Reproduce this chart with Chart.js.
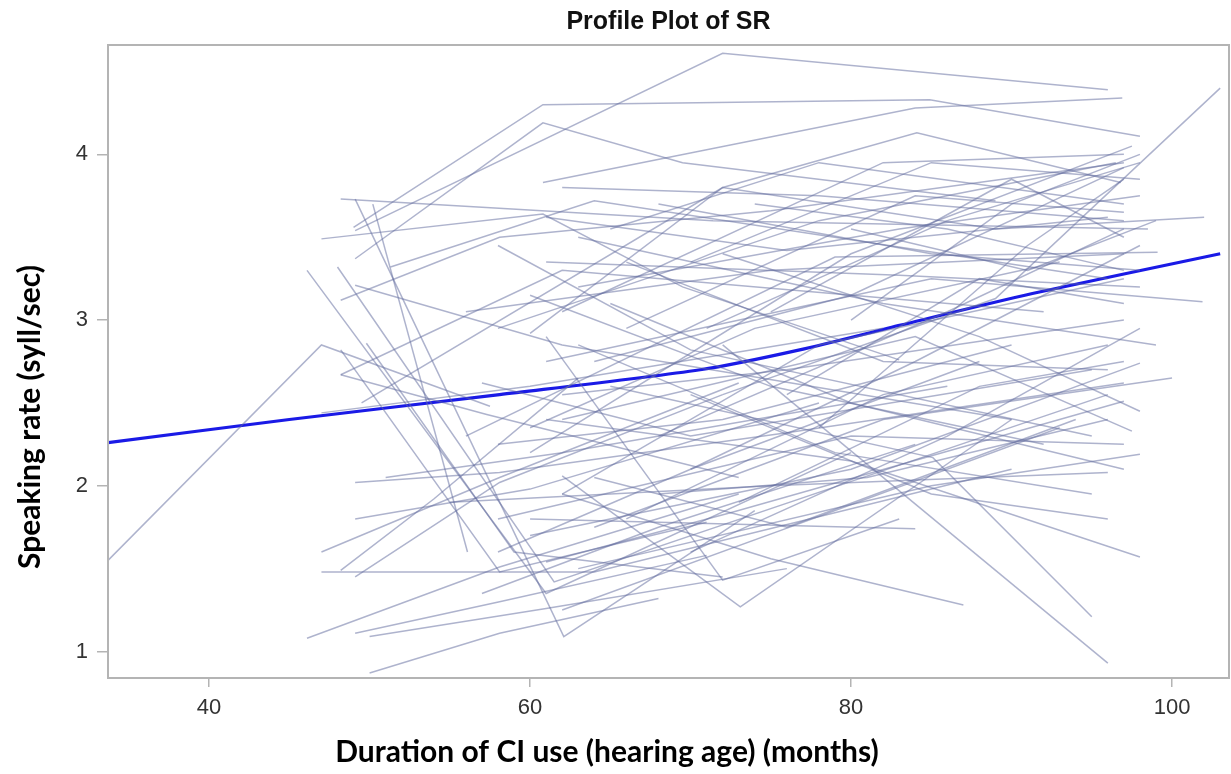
<!DOCTYPE html>
<html>
<head>
<meta charset="utf-8">
<script src="https://cdn.jsdelivr.net/npm/chart.js@4.4.0/dist/chart.umd.min.js"></script>
<style>
  html, body { margin: 0; padding: 0; background: #fff; }
  #wrap { width: 1231px; height: 774px; }
</style>
</head>
<body>
<div id="wrap"><canvas id="profileChart" width="1231" height="774"></canvas></div>
<script>
// axis ticks
const xTicks = [40, 60, 80, 100];
const yTicks = [1, 2, 3, 4];

// average profile (months, syll/sec)
const meanMonths = [33.7, 45.0, 58.1, 70.6, 76.8, 83.1, 91.3, 103.0];
const meanRate = [2.26, 2.40, 2.55, 2.70, 2.82, 2.97, 3.16, 3.40];

// one entry per child: [months, syll/sec] at each visit
const profiles = [
  [[33.7, 1.55], [47.0, 2.85], [57.5, 2.48]],
  [[49.1, 3.54], [72.0, 4.61], [96.0, 4.39]],
  [[49.0, 3.56], [60.8, 4.30], [84.9, 4.33], [98.0, 4.11]],
  [[49.1, 3.37], [60.8, 4.19], [69.5, 3.95], [89.0, 3.72]],
  [[48.2, 3.73], [71.4, 3.60], [98.5, 3.55]],
  [[49.1, 3.73], [62.1, 1.09], [74.0, 1.85]],
  [[46.1, 3.30], [61.0, 1.35], [80.0, 2.20]],
  [[48.0, 3.32], [61.5, 1.42], [96.0, 2.55]],
  [[47.0, 3.49], [60.8, 3.64], [69.5, 3.20], [83.0, 2.76]],
  [[51.3, 3.32], [64.0, 3.72], [96.0, 3.25]],
  [[49.1, 3.21], [62.0, 2.85], [90.0, 2.40]],
  [[48.2, 3.12], [58.1, 3.50], [75.0, 3.66], [97.0, 3.95]],
  [[49.5, 2.50], [72.0, 3.80], [84.1, 4.13], [96.8, 3.83]],
  [[48.2, 2.67], [57.3, 2.43], [73.0, 2.05]],
  [[48.2, 2.67], [62.0, 3.30], [92.0, 3.05]],
  [[47.0, 2.44], [60.0, 2.60], [82.0, 2.95]],
  [[49.1, 2.02], [58.1, 2.08], [76.0, 2.32], [97.0, 2.62]],
  [[51.0, 2.05], [62.0, 2.20], [86.0, 2.60]],
  [[49.1, 1.80], [60.0, 1.98], [78.0, 2.50]],
  [[47.0, 1.60], [58.1, 2.05], [73.0, 2.62]],
  [[48.2, 1.49], [54.0, 1.92], [63.0, 2.65]],
  [[47.0, 1.48], [64.0, 1.48], [90.0, 2.10]],
  [[49.1, 1.45], [58.1, 2.02], [72.0, 2.55]],
  [[46.1, 1.08], [58.1, 1.51], [73.0, 1.95]],
  [[49.1, 1.11], [58.1, 1.30], [71.0, 1.58]],
  [[50.0, 1.09], [61.0, 1.26], [76.0, 1.50]],
  [[50.0, 0.87], [58.1, 1.11], [68.0, 1.32]],
  [[48.2, 2.82], [58.1, 1.48], [71.0, 1.78]],
  [[49.8, 2.86], [59.0, 1.60], [72.0, 1.45]],
  [[50.2, 3.70], [56.1, 1.60]],
  [[60.8, 3.83], [84.0, 4.28], [96.9, 4.34]],
  [[58.0, 3.45], [70.0, 2.82], [95.0, 2.30]],
  [[61.0, 3.35], [83.0, 3.27], [98.0, 3.20]],
  [[60.0, 2.92], [72.0, 3.80], [89.0, 3.55], [102.0, 3.62]],
  [[72.0, 2.55], [89.0, 3.13], [103.0, 4.40]],
  [[60.0, 2.20], [80.0, 3.40], [97.5, 4.05]],
  [[62.0, 3.05], [82.0, 3.95], [97.0, 4.00]],
  [[65.0, 3.55], [78.0, 3.95], [97.0, 3.70]],
  [[56.0, 2.30], [79.0, 3.38], [99.1, 3.41]],
  [[61.0, 2.75], [85.0, 3.25], [101.9, 3.11]],
  [[64.0, 1.75], [82.0, 2.40], [100.0, 2.65]],
  [[60.0, 1.70], [80.0, 2.10], [98.0, 2.74]],
  [[72.0, 2.85], [96.0, 0.93]],
  [[65.0, 2.60], [85.1, 2.17], [95.0, 1.21]],
  [[61.0, 2.40], [80.0, 2.15], [98.0, 1.57]],
  [[61.0, 1.54], [72.6, 1.84], [97.0, 2.51]],
  [[61.0, 2.90], [72.0, 1.43], [83.0, 1.80]],
  [[62.0, 2.06], [73.1, 1.27], [90.0, 2.40]],
  [[62.0, 1.95], [75.0, 1.56], [87.0, 1.28]],
  [[60.0, 1.80], [84.0, 1.74]],
  [[55.0, 1.90], [75.0, 2.00], [96.0, 2.08]],
  [[58.0, 1.80], [80.0, 2.30], [97.0, 2.25]],
  [[63.0, 1.50], [85.0, 2.00], [98.0, 2.19]],
  [[62.0, 2.40], [84.0, 2.90], [97.5, 2.33]],
  [[56.0, 3.05], [75.0, 3.30], [97.0, 3.40]],
  [[63.0, 3.20], [83.0, 3.55], [98.0, 3.75]],
  [[58.0, 2.95], [78.0, 3.60], [96.5, 3.95]],
  [[66.0, 2.95], [84.0, 3.75], [97.0, 3.65]],
  [[70.0, 3.35], [85.0, 3.95], [98.0, 3.85]],
  [[62.0, 2.55], [76.0, 2.70], [97.0, 3.00]],
  [[60.0, 2.35], [74.0, 2.95], [93.0, 3.35]],
  [[68.0, 2.30], [86.0, 3.05], [97.0, 3.55]],
  [[62.0, 1.95], [78.0, 2.85], [97.0, 3.25]],
  [[57.0, 2.62], [70.0, 2.30], [95.0, 2.70]],
  [[66.0, 1.80], [82.0, 2.55], [96.0, 2.85]],
  [[70.0, 1.60], [86.0, 2.30], [98.0, 2.95]],
  [[65.0, 3.10], [80.0, 2.50], [97.0, 2.10]],
  [[60.0, 3.15], [75.0, 2.60], [92.0, 2.25]],
  [[72.0, 3.40], [88.0, 2.90], [98.0, 2.45]],
  [[63.0, 3.50], [82.0, 3.10], [99.0, 2.85]],
  [[75.0, 3.05], [90.0, 3.85], [97.0, 3.50]],
  [[68.0, 3.70], [85.0, 3.40], [98.0, 3.30]],
  [[78.0, 2.35], [91.0, 3.45], [97.0, 3.85]],
  [[70.0, 2.55], [85.0, 1.95], [96.0, 1.80]],
  [[64.0, 2.05], [76.0, 1.75], [94.0, 2.40]],
  [[62.0, 1.25], [79.0, 1.85], [93.0, 2.35]],
  [[57.0, 1.35], [68.0, 1.75], [84.0, 2.25]],
  [[73.0, 1.90], [88.0, 2.60], [97.0, 2.75]],
  [[80.0, 3.00], [90.0, 3.70], [98.0, 4.00]],
  [[74.0, 3.70], [86.0, 3.55], [97.0, 3.30]],
  [[61.0, 3.62], [76.0, 3.42], [96.0, 3.62]],
  [[64.0, 2.75], [80.0, 3.15], [97.0, 3.92]],
  [[66.0, 3.35], [82.0, 2.75], [96.0, 2.70]],
  [[70.0, 2.10], [84.0, 2.75], [98.0, 3.45]],
  [[58.0, 2.25], [72.0, 2.40], [90.0, 2.85]],
  [[76.0, 2.55], [88.0, 3.25], [97.0, 3.10]],
  [[63.0, 2.85], [79.0, 2.20], [95.0, 1.95]],
  [[68.0, 1.95], [81.0, 2.05], [96.0, 2.40]],
  [[80.0, 3.55], [91.0, 3.30], [99.0, 3.60]],
  [[62.0, 3.80], [78.0, 3.75], [97.0, 3.60]],
  [[71.0, 2.95], [86.0, 3.60], [98.0, 3.95]],
  [[58.0, 1.60], [70.0, 2.10], [88.0, 2.75]]
];

const tickFont = { family: '"Liberation Sans", Arial, sans-serif', size: 22 };
const frameColor = '#b4b4b4';

// box around the plot area plus the title texts
const frameAndTitles = {
  id: 'frameAndTitles',
  afterDraw(chart) {
    const { ctx, chartArea: a } = chart;
    ctx.save();
    ctx.strokeStyle = frameColor;
    ctx.lineWidth = 2;
    ctx.strokeRect(a.left, a.top, a.right - a.left, a.bottom - a.top);

    ctx.fillStyle = '#111';
    ctx.textAlign = 'center';
    ctx.textBaseline = 'middle';
    ctx.font = 'bold 25px "Liberation Sans", Arial, sans-serif';
    ctx.fillText('Profile Plot of SR', (a.left + a.right) / 2, 22);

    ctx.fillStyle = '#000';
    ctx.font = 'bold 30px Lato, "Open Sans", sans-serif';
    ctx.fillText('Duration of CI use (hearing age) (months)', 607, 752);
    ctx.translate(30, 417);
    ctx.rotate(-Math.PI / 2);
    ctx.fillText('Speaking rate (syll/sec)', 0, 0);
    ctx.restore();
  }
};

const datasets = profiles.map(pts => ({
  data: pts.map(([x, y]) => ({ x, y })),
  showLine: true,
  borderColor: 'rgba(100,110,160,0.52)',
  borderWidth: 1.5,
  pointRadius: 0,
  tension: 0
}));

datasets.push({
  data: meanMonths.map((x, i) => ({ x, y: meanRate[i] })),
  showLine: true,
  borderColor: '#1a1ae6',
  borderWidth: 3.2,
  pointRadius: 0,
  tension: 0.25
});

new Chart(document.getElementById('profileChart'), {
  type: 'scatter',
  data: { datasets },
  options: {
    responsive: false,
    animation: false,
    devicePixelRatio: 1,
    layout: { padding: { top: 45, right: 2, left: 0, bottom: 0 } },
    plugins: {
      legend: { display: false },
      tooltip: { enabled: false },
      title: { display: false }
    },
    scales: {
      x: {
        type: 'linear',
        min: 33.7,
        max: 103.55,
        afterBuildTicks: s => { s.ticks = xTicks.map(v => ({ value: v })); },
        afterFit: s => { s.height = 96; },
        border: { display: false },
        grid: { drawOnChartArea: false, drawTicks: true, tickLength: 9, color: frameColor, lineWidth: 1.5 },
        ticks: { font: tickFont, color: '#333', padding: 8, maxRotation: 0 }
      },
      y: {
        type: 'linear',
        min: 0.84,
        max: 4.66,
        afterBuildTicks: s => { s.ticks = yTicks.map(v => ({ value: v })); },
        afterFit: s => { s.width = 108; },
        border: { display: false },
        grid: { drawOnChartArea: false, drawTicks: true, tickLength: 11, color: frameColor, lineWidth: 1.5 },
        ticks: { font: tickFont, color: '#333', padding: 9 }
      }
    }
  },
  plugins: [frameAndTitles]
});
</script>
</body>
</html>
